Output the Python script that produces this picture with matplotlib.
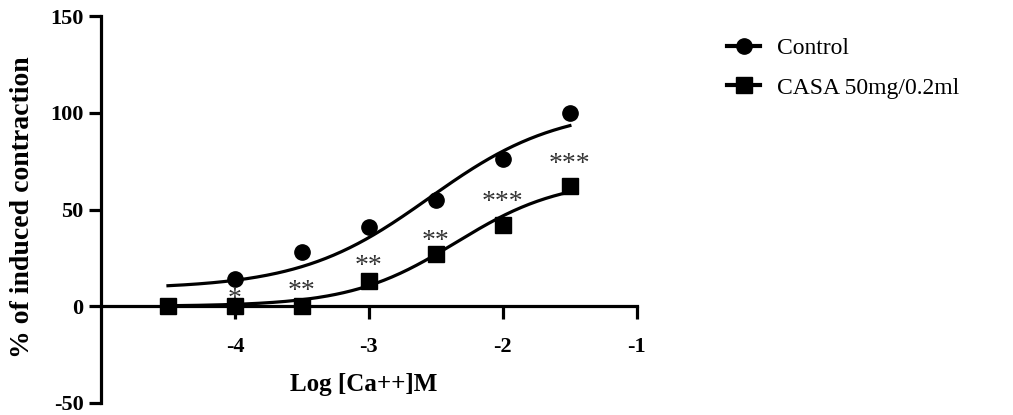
import numpy as np
import matplotlib
matplotlib.use("Agg")
import matplotlib.pyplot as plt

# log concentration of Ca++ (M)
ctrl_x = [-4.0, -3.5, -3.0, -2.5, -2.0, -1.5]
ctrl_y = [14, 28, 41, 55, 76, 100]
casa_x = [-4.5, -4.0, -3.5, -3.0, -2.5, -2.0, -1.5]
casa_y = [0, 0, 0, 13, 27, 42, 62]

# fitted sigmoid parameters (bottom, top, logEC50, hill)
ctrl_fit = [9, 103, -2.55, 0.9]
casa_fit = [0, 66, -2.35, 1.1]

# significance marks above CASA points
star_x = [-4.0, -3.5, -3.0, -2.5, -2.0, -1.5]
star_y = [-3, 1, 14, 27, 47, 67]
star_txt = ['*', '**', '**', '**', '***', '***']


def logistic(x, bottom, top, ec50, hill):
    return bottom + (top - bottom) / (1 + 10 ** ((ec50 - x) * hill))


plt.rcParams['font.family'] = ['Liberation Serif', 'DejaVu Serif']
plt.rcParams['axes.unicode_minus'] = False

fig = plt.figure(figsize=(10.13, 4.15), dpi=100)
ax = fig.add_axes([0.0997, 0.029, 0.529, 0.932])

xs = np.linspace(-4.5, -1.5, 200)
ax.plot(xs, logistic(xs, *ctrl_fit), color='black', lw=2.3)
ax.plot(xs, logistic(xs, *casa_fit), color='black', lw=2.3)
ax.plot(ctrl_x, ctrl_y, 'o', color='black', ms=11)
ax.plot(casa_x, casa_y, 's', color='black', ms=11)

for x, y, t in zip(star_x, star_y, star_txt):
    ax.text(x, y, t, ha='center', va='bottom', fontsize=20, color='#333333')

ax.set_xlim(-5, -1)
ax.set_ylim(-50, 150)
ax.set_xticks([-4, -3, -2, -1])
ax.set_yticks([-50, 0, 50, 100, 150])
ax.spines['top'].set_visible(False)
ax.spines['right'].set_visible(False)
ax.spines['bottom'].set_position(('data', 0))
ax.spines['left'].set_linewidth(2.3)
ax.spines['bottom'].set_linewidth(2.3)
ax.tick_params(axis='both', width=2.3, length=9, labelsize=16)
ax.tick_params(axis='x', pad=13)
for lab in ax.get_xticklabels() + ax.get_yticklabels():
    lab.set_fontweight('bold')

ax.text(0.49, 0.047, 'Log [Ca++]M', transform=ax.transAxes, ha='center',
        va='center', fontsize=18, fontweight='bold')
fig.text(0.022, 0.5, '% of induced contraction', rotation=90, ha='center',
         va='center', fontsize=20, fontweight='bold')

h1, = ax.plot([], [], '-o', color='black', ms=11, lw=3)
h2, = ax.plot([], [], '-s', color='black', ms=11, lw=3)
fig.legend([h1, h2], ['Control', 'CASA 50mg/0.2ml'], loc='upper left',
           bbox_to_anchor=(0.697, 0.96), frameon=False, fontsize=17,
           handlelength=1.4, labelspacing=0.75, handletextpad=0.7)

fig.savefig('out.png', dpi=100)
